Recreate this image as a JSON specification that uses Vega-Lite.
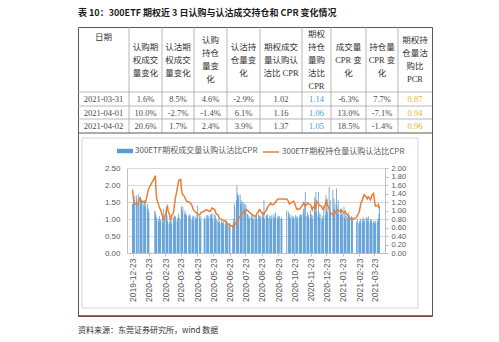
{
 "$schema": "https://vega.github.io/schema/vega-lite/v6.json",
 "width": 354,
 "height": 289,
 "autosize": {"type": "none"},
 "padding": {"left": 78, "top": 27, "right": 67, "bottom": 26},
 "background": "#ffffff",
 "title": {"text": "表 10：300ETF 期权近 3 日认购与认沽成交持仓和 CPR 变化情况", "anchor": "start", "frame": "group", "font": "Noto Sans CJK SC", "fontSize": 9, "fontWeight": "bold", "color": "#1a1a1a", "offset": 9},
 "config": {"view": {"stroke": "#5a5a5a", "strokeWidth": 1}},
 "datasets": {
  "vlines": [{"c":1},{"c":2},{"c":3},{"c":4},{"c":5},{"c":6},{"c":7},{"c":8},{"c":9}],
  "hlines": [{"r":1},{"r":2},{"r":3}],
  "head": [
   {"c":1.5,"n":3,"t":"认购期\n权成交\n量变化"},
   {"c":2.5,"n":3,"t":"认沽期\n权成交\n量变化"},
   {"c":3.5,"n":4,"t":"认购\n持仓\n量变\n化"},
   {"c":4.5,"n":3,"t":"认沽持\n仓量变\n化"},
   {"c":5.5,"n":3,"t":"期权成交\n量认购认\n沽比 CPR"},
   {"c":6.5,"n":5,"t":"期权\n持仓\n量购\n沽比\nCPR"},
   {"c":7.5,"n":3,"t":"成交量\nCPR 变\n化"},
   {"c":8.5,"n":3,"t":"持仓量\nCPR 变\n化"},
   {"c":9.5,"n":4,"t":"期权持\n仓量沽\n购比\nPCR"}
  ],
  "datehead": [{"c":0.5,"t":"日期"}],
  "note": [{"c":0,"r":6,"t":"资料来源：东莞证券研究所，wind 数据"}],
  "cells": [
   {"c":0.5,"r":1.5,"t":"2021-03-31","k":"n"},{"c":1.5,"r":1.5,"t":"1.6%","k":"n"},{"c":2.5,"r":1.5,"t":"8.5%","k":"n"},{"c":3.5,"r":1.5,"t":"4.6%","k":"n"},{"c":4.5,"r":1.5,"t":"-2.9%","k":"n"},{"c":5.5,"r":1.5,"t":"1.02","k":"n"},{"c":6.5,"r":1.5,"t":"1.14","k":"b"},{"c":7.5,"r":1.5,"t":"-6.3%","k":"n"},{"c":8.5,"r":1.5,"t":"7.7%","k":"n"},{"c":9.5,"r":1.5,"t":"0.87","k":"y"},
   {"c":0.5,"r":2.5,"t":"2021-04-01","k":"n"},{"c":1.5,"r":2.5,"t":"10.0%","k":"n"},{"c":2.5,"r":2.5,"t":"-2.7%","k":"n"},{"c":3.5,"r":2.5,"t":"-1.4%","k":"n"},{"c":4.5,"r":2.5,"t":"6.1%","k":"n"},{"c":5.5,"r":2.5,"t":"1.16","k":"n"},{"c":6.5,"r":2.5,"t":"1.06","k":"b"},{"c":7.5,"r":2.5,"t":"13.0%","k":"n"},{"c":8.5,"r":2.5,"t":"-7.1%","k":"n"},{"c":9.5,"r":2.5,"t":"0.94","k":"y"},
   {"c":0.5,"r":3.5,"t":"2021-04-02","k":"n"},{"c":1.5,"r":3.5,"t":"20.6%","k":"n"},{"c":2.5,"r":3.5,"t":"1.7%","k":"n"},{"c":3.5,"r":3.5,"t":"2.4%","k":"n"},{"c":4.5,"r":3.5,"t":"3.9%","k":"n"},{"c":5.5,"r":3.5,"t":"1.37","k":"n"},{"c":6.5,"r":3.5,"t":"1.05","k":"b"},{"c":7.5,"r":3.5,"t":"18.5%","k":"n"},{"c":8.5,"r":3.5,"t":"-1.4%","k":"n"},{"c":9.5,"r":3.5,"t":"0.96","k":"y"}
  ],
  "daily": [
   {"d":"2019-12-23","v":1.45,"o":1.49},{"d":"2019-12-24","v":1.40,"o":1.36},{"d":"2019-12-25","v":1.72,"o":1.25},{"d":"2019-12-26","v":1.68,"o":1.20},{"d":"2019-12-27","v":1.55,"o":1.16},{"d":"2019-12-30","v":1.70,"o":1.14},{"d":"2019-12-31","v":1.62,"o":1.14},
   {"d":"2020-01-02","v":1.48,"o":1.15},{"d":"2020-01-03","v":1.72,"o":1.20},{"d":"2020-01-06","v":1.55,"o":1.29},{"d":"2020-01-07","v":1.65,"o":1.25},{"d":"2020-01-08","v":1.40,"o":1.22},{"d":"2020-01-09","v":1.58,"o":1.23},{"d":"2020-01-10","v":1.50,"o":1.22},{"d":"2020-01-13","v":1.42,"o":1.20},{"d":"2020-01-14","v":1.55,"o":1.21},{"d":"2020-01-15","v":1.38,"o":1.19},{"d":"2020-01-16","v":1.47,"o":1.19},{"d":"2020-01-17","v":1.35,"o":1.22},{"d":"2020-01-20","v":1.45,"o":1.38},{"d":"2020-01-21","v":1.22,"o":1.45},{"d":"2020-01-22","v":1.30,"o":1.49},{"d":"2020-01-23","v":1.18,"o":1.53},
   {"d":"2020-02-03","v":1.25,"o":1.78},{"d":"2020-02-04","v":1.20,"o":1.82},{"d":"2020-02-05","v":1.12,"o":1.55},{"d":"2020-02-06","v":1.05,"o":1.35},{"d":"2020-02-07","v":0.95,"o":1.25},{"d":"2020-02-10","v":1.00,"o":1.15},{"d":"2020-02-11","v":0.90,"o":1.10},{"d":"2020-02-12","v":1.08,"o":1.06},{"d":"2020-02-13","v":0.92,"o":1.04},{"d":"2020-02-14","v":0.98,"o":1.02},{"d":"2020-02-17","v":1.05,"o":0.88},{"d":"2020-02-18","v":0.92,"o":0.84},{"d":"2020-02-19","v":1.30,"o":0.80},{"d":"2020-02-20","v":0.88,"o":0.78},{"d":"2020-02-21","v":1.00,"o":0.82},{"d":"2020-02-24","v":1.18,"o":0.95},{"d":"2020-02-25","v":1.37,"o":1.02},{"d":"2020-02-26","v":1.10,"o":1.08},{"d":"2020-02-27","v":0.95,"o":1.10},{"d":"2020-02-28","v":0.85,"o":0.98},
   {"d":"2020-03-02","v":0.92,"o":0.90},{"d":"2020-03-03","v":1.00,"o":0.82},{"d":"2020-03-04","v":0.88,"o":0.78},{"d":"2020-03-05","v":0.95,"o":0.82},{"d":"2020-03-06","v":0.85,"o":0.88},{"d":"2020-03-09","v":1.05,"o":0.94},{"d":"2020-03-10","v":0.98,"o":1.02},{"d":"2020-03-11","v":1.10,"o":1.12},{"d":"2020-03-12","v":0.90,"o":1.22},{"d":"2020-03-13","v":1.08,"o":1.30},{"d":"2020-03-16","v":0.95,"o":1.48},{"d":"2020-03-17","v":1.02,"o":1.57},{"d":"2020-03-18","v":0.92,"o":1.64},{"d":"2020-03-19","v":1.15,"o":1.69},{"d":"2020-03-20","v":1.05,"o":1.72},{"d":"2020-03-23","v":0.98,"o":1.73},{"d":"2020-03-24","v":1.38,"o":1.55},{"d":"2020-03-25","v":1.30,"o":1.45},{"d":"2020-03-26","v":1.20,"o":1.40},{"d":"2020-03-27","v":1.35,"o":1.37},{"d":"2020-03-30","v":1.15,"o":1.33},{"d":"2020-03-31","v":1.25,"o":1.30},
   {"d":"2020-04-01","v":1.18,"o":1.27},{"d":"2020-04-02","v":1.05,"o":1.25},{"d":"2020-04-03","v":1.12,"o":1.22},{"d":"2020-04-07","v":1.08,"o":1.20},{"d":"2020-04-08","v":1.15,"o":1.19},{"d":"2020-04-09","v":1.02,"o":1.18},{"d":"2020-04-10","v":1.10,"o":1.18},{"d":"2020-04-13","v":0.98,"o":1.12},{"d":"2020-04-14","v":1.05,"o":1.08},{"d":"2020-04-15","v":1.10,"o":1.05},{"d":"2020-04-16","v":0.95,"o":1.02},{"d":"2020-04-17","v":1.08,"o":1.00},{"d":"2020-04-20","v":1.02,"o":0.97},{"d":"2020-04-21","v":1.12,"o":0.95},{"d":"2020-04-22","v":0.98,"o":0.94},{"d":"2020-04-23","v":1.05,"o":0.93},{"d":"2020-04-24","v":1.40,"o":0.91},{"d":"2020-04-27","v":1.10,"o":0.90},{"d":"2020-04-28","v":1.02,"o":0.90},{"d":"2020-04-29","v":0.95,"o":0.92},{"d":"2020-04-30","v":1.08,"o":0.95},
   {"d":"2020-05-06","v":1.00,"o":0.98},{"d":"2020-05-07","v":1.05,"o":0.99},{"d":"2020-05-08","v":0.98,"o":1.00},{"d":"2020-05-11","v":1.10,"o":1.02},{"d":"2020-05-12","v":1.04,"o":1.01},{"d":"2020-05-13","v":1.12,"o":1.00},{"d":"2020-05-14","v":1.00,"o":0.99},{"d":"2020-05-15","v":1.08,"o":0.98},{"d":"2020-05-18","v":1.14,"o":0.98},{"d":"2020-05-19","v":1.05,"o":1.01},{"d":"2020-05-20","v":1.12,"o":1.04},{"d":"2020-05-21","v":1.18,"o":1.06},{"d":"2020-05-22","v":1.00,"o":1.05},{"d":"2020-05-25","v":1.15,"o":1.03},{"d":"2020-05-26","v":0.95,"o":1.02},{"d":"2020-05-27","v":1.10,"o":0.99},{"d":"2020-05-28","v":1.05,"o":0.95},{"d":"2020-05-29","v":0.98,"o":0.92},
   {"d":"2020-06-01","v":0.95,"o":0.90},{"d":"2020-06-02","v":0.88,"o":0.87},{"d":"2020-06-03","v":1.00,"o":0.84},{"d":"2020-06-04","v":0.92,"o":0.82},{"d":"2020-06-05","v":0.85,"o":0.81},{"d":"2020-06-08","v":0.95,"o":0.79},{"d":"2020-06-09","v":0.88,"o":0.78},{"d":"2020-06-10","v":0.90,"o":0.78},{"d":"2020-06-11","v":0.82,"o":0.77},{"d":"2020-06-12","v":0.92,"o":0.76},{"d":"2020-06-15","v":0.85,"o":0.76},{"d":"2020-06-16","v":0.95,"o":0.75},{"d":"2020-06-17","v":0.88,"o":0.73},{"d":"2020-06-18","v":0.80,"o":0.71},{"d":"2020-06-19","v":0.90,"o":0.69},{"d":"2020-06-22","v":0.85,"o":0.67},{"d":"2020-06-23","v":0.78,"o":0.66},{"d":"2020-06-24","v":0.88,"o":0.65},{"d":"2020-06-29","v":0.82,"o":0.63},{"d":"2020-06-30","v":0.90,"o":0.60},
   {"d":"2020-07-01","v":1.00,"o":0.59},{"d":"2020-07-02","v":1.45,"o":0.62},{"d":"2020-07-03","v":1.35,"o":0.67},{"d":"2020-07-06","v":1.55,"o":0.72},{"d":"2020-07-07","v":1.98,"o":0.75},{"d":"2020-07-08","v":1.75,"o":0.78},{"d":"2020-07-09","v":1.60,"o":0.80},{"d":"2020-07-10","v":1.70,"o":0.82},{"d":"2020-07-13","v":1.72,"o":0.86},{"d":"2020-07-14","v":1.45,"o":0.88},{"d":"2020-07-15","v":1.55,"o":0.89},{"d":"2020-07-16","v":1.40,"o":0.90},{"d":"2020-07-17","v":1.50,"o":0.93},{"d":"2020-07-20","v":1.48,"o":0.96},{"d":"2020-07-21","v":1.30,"o":0.98},{"d":"2020-07-22","v":1.45,"o":1.00},{"d":"2020-07-23","v":1.25,"o":1.01},{"d":"2020-07-24","v":1.42,"o":1.02},{"d":"2020-07-27","v":1.15,"o":1.00},{"d":"2020-07-28","v":1.12,"o":0.99},{"d":"2020-07-29","v":1.00,"o":0.98},{"d":"2020-07-30","v":1.08,"o":0.97},{"d":"2020-07-31","v":1.02,"o":0.95},
   {"d":"2020-08-03","v":1.05,"o":0.93},{"d":"2020-08-04","v":1.12,"o":0.91},{"d":"2020-08-05","v":0.98,"o":0.90},{"d":"2020-08-06","v":1.08,"o":0.90},{"d":"2020-08-07","v":1.00,"o":0.88},{"d":"2020-08-10","v":1.10,"o":0.87},{"d":"2020-08-11","v":0.95,"o":0.86},{"d":"2020-08-12","v":1.05,"o":0.88},{"d":"2020-08-13","v":1.12,"o":0.91},{"d":"2020-08-14","v":1.00,"o":0.94},{"d":"2020-08-17","v":1.15,"o":0.98},{"d":"2020-08-18","v":1.05,"o":1.01},{"d":"2020-08-19","v":1.10,"o":1.02},{"d":"2020-08-20","v":0.98,"o":1.00},{"d":"2020-08-21","v":1.08,"o":0.97},{"d":"2020-08-24","v":1.10,"o":0.94},{"d":"2020-08-25","v":1.20,"o":0.92},{"d":"2020-08-26","v":1.05,"o":0.90},{"d":"2020-08-27","v":1.55,"o":0.91},{"d":"2020-08-28","v":1.00,"o":0.95},{"d":"2020-08-31","v":1.08,"o":1.00},
   {"d":"2020-09-01","v":1.12,"o":1.02},{"d":"2020-09-02","v":1.05,"o":1.05},{"d":"2020-09-03","v":1.15,"o":1.08},{"d":"2020-09-04","v":1.02,"o":1.10},{"d":"2020-09-07","v":1.10,"o":1.15},{"d":"2020-09-08","v":0.98,"o":1.18},{"d":"2020-09-09","v":1.08,"o":1.17},{"d":"2020-09-10","v":1.00,"o":1.15},{"d":"2020-09-11","v":1.12,"o":1.14},{"d":"2020-09-14","v":1.05,"o":1.14},{"d":"2020-09-15","v":1.15,"o":1.15},{"d":"2020-09-16","v":1.00,"o":1.17},{"d":"2020-09-17","v":1.08,"o":1.18},{"d":"2020-09-18","v":1.20,"o":1.20},{"d":"2020-09-21","v":1.05,"o":1.25},{"d":"2020-09-22","v":0.98,"o":1.26},{"d":"2020-09-23","v":1.10,"o":1.27},{"d":"2020-09-24","v":1.02,"o":1.27},{"d":"2020-09-25","v":1.08,"o":1.27},{"d":"2020-09-28","v":1.00,"o":1.27},{"d":"2020-09-29","v":1.05,"o":1.27},{"d":"2020-09-30","v":0.98,"o":1.27},
   {"d":"2020-10-09","v":1.25,"o":1.27},{"d":"2020-10-12","v":1.22,"o":1.22},{"d":"2020-10-13","v":1.15,"o":1.18},{"d":"2020-10-14","v":1.05,"o":1.15},{"d":"2020-10-15","v":1.15,"o":1.16},{"d":"2020-10-16","v":1.02,"o":1.18},{"d":"2020-10-19","v":1.10,"o":1.19},{"d":"2020-10-20","v":0.98,"o":1.20},{"d":"2020-10-21","v":1.08,"o":1.21},{"d":"2020-10-22","v":1.00,"o":1.22},{"d":"2020-10-23","v":1.05,"o":1.20},{"d":"2020-10-26","v":1.12,"o":1.10},{"d":"2020-10-27","v":1.00,"o":1.06},{"d":"2020-10-28","v":1.08,"o":1.03},{"d":"2020-10-29","v":0.95,"o":1.02},{"d":"2020-10-30","v":1.05,"o":1.03},
   {"d":"2020-11-02","v":1.10,"o":1.04},{"d":"2020-11-03","v":1.02,"o":1.04},{"d":"2020-11-04","v":1.15,"o":1.06},{"d":"2020-11-05","v":1.05,"o":1.08},{"d":"2020-11-06","v":1.12,"o":1.10},{"d":"2020-11-09","v":1.20,"o":1.15},{"d":"2020-11-10","v":1.30,"o":1.18},{"d":"2020-11-11","v":1.10,"o":1.16},{"d":"2020-11-12","v":1.40,"o":1.13},{"d":"2020-11-13","v":1.80,"o":1.11},{"d":"2020-11-16","v":1.08,"o":1.14},{"d":"2020-11-17","v":1.20,"o":1.17},{"d":"2020-11-18","v":1.05,"o":1.18},{"d":"2020-11-19","v":1.12,"o":1.16},{"d":"2020-11-20","v":1.00,"o":1.15},{"d":"2020-11-23","v":1.25,"o":1.14},{"d":"2020-11-24","v":1.15,"o":1.10},{"d":"2020-11-25","v":1.05,"o":1.06},{"d":"2020-11-26","v":1.10,"o":1.02},{"d":"2020-11-27","v":1.00,"o":1.06},{"d":"2020-11-30","v":1.50,"o":1.10},
   {"d":"2020-12-01","v":1.65,"o":1.12},{"d":"2020-12-02","v":1.20,"o":1.05},{"d":"2020-12-03","v":1.80,"o":1.02},{"d":"2020-12-04","v":1.25,"o":1.22},{"d":"2020-12-07","v":1.10,"o":1.18},{"d":"2020-12-08","v":1.80,"o":1.15},{"d":"2020-12-09","v":1.20,"o":1.14},{"d":"2020-12-10","v":1.05,"o":1.12},{"d":"2020-12-11","v":1.15,"o":1.11},{"d":"2020-12-14","v":1.00,"o":1.10},{"d":"2020-12-15","v":1.10,"o":1.06},{"d":"2020-12-16","v":0.95,"o":1.03},{"d":"2020-12-17","v":1.05,"o":1.02},{"d":"2020-12-18","v":1.40,"o":1.05},{"d":"2020-12-21","v":1.12,"o":1.14},{"d":"2020-12-22","v":1.70,"o":1.20},{"d":"2020-12-23","v":1.30,"o":1.25},{"d":"2020-12-24","v":1.60,"o":1.18},{"d":"2020-12-25","v":1.20,"o":1.12},{"d":"2020-12-28","v":1.95,"o":1.06},{"d":"2020-12-29","v":1.35,"o":1.00},{"d":"2020-12-30","v":1.55,"o":0.96},{"d":"2020-12-31","v":1.20,"o":0.94},
   {"d":"2021-01-04","v":1.85,"o":0.90},{"d":"2021-01-05","v":1.30,"o":0.90},{"d":"2021-01-06","v":1.60,"o":0.89},{"d":"2021-01-07","v":1.25,"o":0.90},{"d":"2021-01-08","v":1.45,"o":0.96},{"d":"2021-01-11","v":1.90,"o":1.00},{"d":"2021-01-12","v":1.40,"o":1.02},{"d":"2021-01-13","v":1.20,"o":1.02},{"d":"2021-01-14","v":1.55,"o":1.00},{"d":"2021-01-15","v":1.15,"o":0.98},{"d":"2021-01-18","v":1.30,"o":0.98},{"d":"2021-01-19","v":1.10,"o":1.00},{"d":"2021-01-20","v":1.25,"o":1.02},{"d":"2021-01-21","v":1.05,"o":1.00},{"d":"2021-01-22","v":1.15,"o":0.97},{"d":"2021-01-25","v":1.37,"o":0.94},{"d":"2021-01-26","v":1.05,"o":0.96},{"d":"2021-01-27","v":1.15,"o":0.98},{"d":"2021-01-28","v":1.00,"o":0.95},{"d":"2021-01-29","v":1.10,"o":0.92},
   {"d":"2021-02-01","v":1.05,"o":0.90},{"d":"2021-02-02","v":1.20,"o":0.87},{"d":"2021-02-03","v":0.98,"o":0.84},{"d":"2021-02-04","v":1.12,"o":0.83},{"d":"2021-02-05","v":1.00,"o":0.82},{"d":"2021-02-08","v":1.08,"o":0.79},{"d":"2021-02-09","v":0.95,"o":0.78},{"d":"2021-02-10","v":1.05,"o":0.79},{"d":"2021-02-18","v":0.92,"o":0.84},{"d":"2021-02-19","v":1.00,"o":0.88},{"d":"2021-02-22","v":0.88,"o":0.94},{"d":"2021-02-23","v":0.95,"o":0.98},{"d":"2021-02-24","v":0.85,"o":1.04},{"d":"2021-02-25","v":1.00,"o":1.10},{"d":"2021-02-26","v":0.90,"o":1.18},
   {"d":"2021-03-01","v":0.98,"o":1.25},{"d":"2021-03-02","v":1.05,"o":1.30},{"d":"2021-03-03","v":0.92,"o":1.34},{"d":"2021-03-04","v":1.00,"o":1.37},{"d":"2021-03-05","v":0.95,"o":1.35},{"d":"2021-03-08","v":1.05,"o":1.33},{"d":"2021-03-09","v":0.90,"o":1.29},{"d":"2021-03-10","v":1.02,"o":1.27},{"d":"2021-03-11","v":0.95,"o":1.29},{"d":"2021-03-12","v":1.08,"o":1.32},{"d":"2021-03-15","v":0.92,"o":1.28},{"d":"2021-03-16","v":1.00,"o":1.25},{"d":"2021-03-17","v":0.88,"o":1.28},{"d":"2021-03-18","v":0.98,"o":1.33},{"d":"2021-03-19","v":0.90,"o":1.36},{"d":"2021-03-22","v":0.95,"o":1.40},{"d":"2021-03-23","v":0.85,"o":1.30},{"d":"2021-03-24","v":0.92,"o":1.18},{"d":"2021-03-25","v":0.88,"o":1.12},{"d":"2021-03-26","v":0.95,"o":1.10},{"d":"2021-03-29","v":0.90,"o":1.11},{"d":"2021-03-30","v":0.98,"o":1.12},{"d":"2021-03-31","v":1.02,"o":1.14},
   {"d":"2021-04-01","v":1.16,"o":1.06},{"d":"2021-04-02","v":1.37,"o":1.05}
  ]
 },
 "layer": [
  {
   "layer": [
    {
     "data": {"values": [{"f": 1}]},
     "mark": {"type": "rect", "fill": null, "stroke": "#d4d4d4", "strokeWidth": 1, "xOffset": 4, "x2Offset": -14, "yOffset": 5, "y2Offset": -8},
     "encoding": {
      "x": {"datum": 0, "type": "quantitative", "scale": {"domain": [0,1,2,3,4,5,6,7,8,9,10], "range": [0,51,84,116,149,182,224,253,288,320,354], "nice": false, "zero": false}, "axis": null},
      "x2": {"datum": 10},
      "y": {"datum": 4, "type": "quantitative", "scale": {"domain": [0,1,2,3,4,5,6], "range": [0,65,79,92,106,289,304], "nice": false, "zero": false}, "axis": null},
      "y2": {"datum": 5}
     }
    },
    {
     "data": {"name": "vlines"},
     "mark": {"type": "rule", "color": "#a6a6a6", "strokeWidth": 0.8},
     "encoding": {
      "x": {"field": "c", "type": "quantitative", "scale": {"domain": [0,1,2,3,4,5,6,7,8,9,10], "range": [0,51,84,116,149,182,224,253,288,320,354], "nice": false, "zero": false}, "axis": null},
      "y": {"datum": 0, "type": "quantitative", "scale": {"domain": [0,1,2,3,4,5,6], "range": [0,65,79,92,106,289,304], "nice": false, "zero": false}, "axis": null},
      "y2": {"datum": 4}
     }
    },
    {
     "data": {"name": "hlines"},
     "mark": {"type": "rule", "color": "#a6a6a6", "strokeWidth": 0.8},
     "encoding": {
      "y": {"field": "r", "type": "quantitative", "scale": {"domain": [0,1,2,3,4,5,6], "range": [0,65,79,92,106,289,304], "nice": false, "zero": false}, "axis": null},
      "x": {"datum": 0, "type": "quantitative", "scale": {"domain": [0,1,2,3,4,5,6,7,8,9,10], "range": [0,51,84,116,149,182,224,253,288,320,354], "nice": false, "zero": false}, "axis": null},
      "x2": {"datum": 10}
     }
    },
    {
     "data": {"values": [{"r": 4, "col": "#5a5a5a", "w": 1}, {"r": 5, "col": "#8b3a3a", "w": 1.6}]},
     "mark": {"type": "rule"},
     "encoding": {
      "y": {"field": "r", "type": "quantitative", "scale": {"domain": [0,1,2,3,4,5,6], "range": [0,65,79,92,106,289,304], "nice": false, "zero": false}, "axis": null},
      "x": {"datum": 0, "type": "quantitative", "scale": {"domain": [0,1,2,3,4,5,6,7,8,9,10], "range": [0,51,84,116,149,182,224,253,288,320,354], "nice": false, "zero": false}, "axis": null},
      "x2": {"datum": 10},
      "color": {"field": "col", "type": "nominal", "scale": null, "legend": null},
      "strokeWidth": {"field": "w", "type": "quantitative", "scale": null, "legend": null}
     }
    },
    {
     "data": {"name": "head"},
     "transform": [{"filter": "datum.n == 3"}],
     "mark": {"type": "text", "lineBreak": "\n", "lineHeight": 13, "font": "Liberation Serif, Noto Sans CJK SC", "fontSize": 8.5, "color": "#333333", "align": "center", "baseline": "middle", "yOffset": -13},
     "encoding": {
      "x": {"field": "c", "type": "quantitative", "scale": {"domain": [0,1,2,3,4,5,6,7,8,9,10], "range": [0,51,84,116,149,182,224,253,288,320,354], "nice": false, "zero": false}, "axis": null},
      "y": {"datum": 0.5, "type": "quantitative", "scale": {"domain": [0,1,2,3,4,5,6], "range": [0,65,79,92,106,289,304], "nice": false, "zero": false}, "axis": null},
      "text": {"field": "t"}
     }
    },
    {
     "data": {"name": "head"},
     "transform": [{"filter": "datum.n == 4"}],
     "mark": {"type": "text", "lineBreak": "\n", "lineHeight": 13, "font": "Liberation Serif, Noto Sans CJK SC", "fontSize": 8.5, "color": "#333333", "align": "center", "baseline": "middle", "yOffset": -19.5},
     "encoding": {
      "x": {"field": "c", "type": "quantitative", "scale": {"domain": [0,1,2,3,4,5,6,7,8,9,10], "range": [0,51,84,116,149,182,224,253,288,320,354], "nice": false, "zero": false}, "axis": null},
      "y": {"datum": 0.5, "type": "quantitative", "scale": {"domain": [0,1,2,3,4,5,6], "range": [0,65,79,92,106,289,304], "nice": false, "zero": false}, "axis": null},
      "text": {"field": "t"}
     }
    },
    {
     "data": {"name": "head"},
     "transform": [{"filter": "datum.n == 5"}],
     "mark": {"type": "text", "lineBreak": "\n", "lineHeight": 13, "font": "Liberation Serif, Noto Sans CJK SC", "fontSize": 8.5, "color": "#333333", "align": "center", "baseline": "middle", "yOffset": -26},
     "encoding": {
      "x": {"field": "c", "type": "quantitative", "scale": {"domain": [0,1,2,3,4,5,6,7,8,9,10], "range": [0,51,84,116,149,182,224,253,288,320,354], "nice": false, "zero": false}, "axis": null},
      "y": {"datum": 0.5, "type": "quantitative", "scale": {"domain": [0,1,2,3,4,5,6], "range": [0,65,79,92,106,289,304], "nice": false, "zero": false}, "axis": null},
      "text": {"field": "t"}
     }
    },
    {
     "data": {"name": "datehead"},
     "mark": {"type": "text", "font": "Noto Sans CJK SC", "fontSize": 8.5, "color": "#333333", "align": "center", "baseline": "top", "yOffset": 6},
     "encoding": {
      "x": {"field": "c", "type": "quantitative", "scale": {"domain": [0,1,2,3,4,5,6,7,8,9,10], "range": [0,51,84,116,149,182,224,253,288,320,354], "nice": false, "zero": false}, "axis": null},
      "y": {"datum": 0, "type": "quantitative", "scale": {"domain": [0,1,2,3,4,5,6], "range": [0,65,79,92,106,289,304], "nice": false, "zero": false}, "axis": null},
      "text": {"field": "t"}
     }
    },
    {
     "data": {"name": "cells"},
     "mark": {"type": "text", "font": "Liberation Serif", "fontSize": 8.5, "align": "center", "baseline": "middle"},
     "encoding": {
      "x": {"field": "c", "type": "quantitative", "scale": {"domain": [0,1,2,3,4,5,6,7,8,9,10], "range": [0,51,84,116,149,182,224,253,288,320,354], "nice": false, "zero": false}, "axis": null},
      "y": {"field": "r", "type": "quantitative", "scale": {"domain": [0,1,2,3,4,5,6], "range": [0,65,79,92,106,289,304], "nice": false, "zero": false}, "axis": null},
      "text": {"field": "t"},
      "color": {"field": "k", "type": "nominal", "scale": {"domain": ["n","b","y"], "range": ["#4a4a4a","#3aa0d8","#e8b41e"]}, "legend": null}
     }
    },
    {
     "data": {"name": "note"},
     "mark": {"type": "text", "font": "Noto Sans CJK SC", "fontSize": 8, "color": "#333333", "align": "left", "baseline": "middle"},
     "encoding": {
      "x": {"field": "c", "type": "quantitative", "scale": {"domain": [0,1,2,3,4,5,6,7,8,9,10], "range": [0,51,84,116,149,182,224,253,288,320,354], "nice": false, "zero": false}, "axis": null},
      "y": {"field": "r", "type": "quantitative", "scale": {"domain": [0,1,2,3,4,5,6], "range": [0,65,79,92,106,289,304], "nice": false, "zero": false}, "axis": null},
      "text": {"field": "t"}
     }
    }
   ]
  },
  {
   "data": {"name": "daily"},
   "layer": [
    {
     "mark": {"type": "bar", "width": 0.8},
     "encoding": {
      "x": {"field": "d", "type": "temporal",
            "scale": {"type": "utc", "domain": [{"year": 2019, "month": 12, "date": 22, "utc": true}, {"year": 2021, "month": 4, "date": 3, "utc": true}], "range": [49, 307]},
            "axis": {"orient": "bottom", "offset": -63, "title": null, "grid": false, "format": "%Y-%m-%d", "labelAngle": 270, "labelAlign": "right", "labelBaseline": "middle", "labelFont": "Liberation Sans", "labelFontSize": 8.5, "labelColor": "#595959", "labelPadding": 2, "labelOverlap": false, "labelSeparation": 0, "labelBound": false, "tickSize": 3, "tickColor": "#bfbfbf", "domainColor": "#bfbfbf",
                     "values": [{"year":2019,"month":12,"date":23,"utc":true},{"year":2020,"month":1,"date":23,"utc":true},{"year":2020,"month":2,"date":23,"utc":true},{"year":2020,"month":3,"date":23,"utc":true},{"year":2020,"month":4,"date":23,"utc":true},{"year":2020,"month":5,"date":23,"utc":true},{"year":2020,"month":6,"date":23,"utc":true},{"year":2020,"month":7,"date":23,"utc":true},{"year":2020,"month":8,"date":23,"utc":true},{"year":2020,"month":9,"date":23,"utc":true},{"year":2020,"month":10,"date":23,"utc":true},{"year":2020,"month":11,"date":23,"utc":true},{"year":2020,"month":12,"date":23,"utc":true},{"year":2021,"month":1,"date":23,"utc":true},{"year":2021,"month":2,"date":23,"utc":true},{"year":2021,"month":3,"date":23,"utc":true}]}},
      "y": {"field": "v", "type": "quantitative",
            "scale": {"domain": [0, 2.5], "range": [226, 141], "nice": false},
            "axis": {"orient": "left", "offset": -49, "title": null, "values": [0, 0.5, 1, 1.5, 2, 2.5], "format": ".2f", "grid": true, "gridColor": "#d9d9d9", "ticks": false, "domainColor": "#bfbfbf", "labelFont": "Liberation Sans", "labelFontSize": 8, "labelColor": "#595959", "labelPadding": 7}},
      "color": {"datum": "300ETF期权成交量认购认沽比CPR", "scale": {"range": ["#5b9bd5"]},
                "legend": {"orient": "none", "legendX": 39, "legendY": 116, "title": null, "symbolType": "M-1,-0.28L1,-0.28L1,0.28L-1,0.28Z", "symbolSize": 256, "symbolStrokeWidth": 0, "labelFont": "Noto Sans CJK SC", "labelFontSize": 8, "labelColor": "#595959", "labelOffset": 2}}
     }
    },
    {
     "mark": {"type": "line", "strokeWidth": 1.5},
     "encoding": {
      "x": {"field": "d", "type": "temporal",
            "scale": {"type": "utc", "domain": [{"year": 2019, "month": 12, "date": 22, "utc": true}, {"year": 2021, "month": 4, "date": 3, "utc": true}], "range": [49, 307]},
            "axis": {"orient": "bottom", "offset": -63, "title": null, "grid": false, "format": "%Y-%m-%d", "labelAngle": 270, "labelAlign": "right", "labelBaseline": "middle", "labelFont": "Liberation Sans", "labelFontSize": 8.5, "labelColor": "#595959", "labelPadding": 2, "labelOverlap": false, "labelSeparation": 0, "labelBound": false, "tickSize": 3, "tickColor": "#bfbfbf", "domainColor": "#bfbfbf",
                     "values": [{"year":2019,"month":12,"date":23,"utc":true},{"year":2020,"month":1,"date":23,"utc":true},{"year":2020,"month":2,"date":23,"utc":true},{"year":2020,"month":3,"date":23,"utc":true},{"year":2020,"month":4,"date":23,"utc":true},{"year":2020,"month":5,"date":23,"utc":true},{"year":2020,"month":6,"date":23,"utc":true},{"year":2020,"month":7,"date":23,"utc":true},{"year":2020,"month":8,"date":23,"utc":true},{"year":2020,"month":9,"date":23,"utc":true},{"year":2020,"month":10,"date":23,"utc":true},{"year":2020,"month":11,"date":23,"utc":true},{"year":2020,"month":12,"date":23,"utc":true},{"year":2021,"month":1,"date":23,"utc":true},{"year":2021,"month":2,"date":23,"utc":true},{"year":2021,"month":3,"date":23,"utc":true}]}},
      "y": {"field": "o", "type": "quantitative",
            "scale": {"domain": [0, 2], "range": [226, 141], "nice": false},
            "axis": {"orient": "right", "offset": -47, "title": null, "values": [0, 0.2, 0.4, 0.6, 0.8, 1, 1.2, 1.4, 1.6, 1.8, 2], "format": ".2f", "grid": false, "tickSize": 3, "tickColor": "#bfbfbf", "domainColor": "#bfbfbf", "labelFont": "Liberation Sans", "labelFontSize": 7.5, "labelColor": "#595959", "labelPadding": 3}},
      "color": {"datum": "300ETF期权持仓量认购认沽比CPR", "scale": {"range": ["#ed7d31"]},
                "legend": {"orient": "none", "legendX": 184, "legendY": 116, "title": null, "symbolType": "stroke", "symbolSize": 256, "symbolStrokeWidth": 1.5, "labelFont": "Noto Sans CJK SC", "labelFontSize": 8, "labelColor": "#595959", "labelOffset": 2}}
     }
    }
   ],
   "resolve": {"scale": {"y": "independent", "color": "independent"}, "axis": {"y": "independent"}, "legend": {"color": "independent"}}
  }
 ],
 "resolve": {"scale": {"x": "independent", "y": "independent", "color": "independent", "strokeWidth": "independent"}, "axis": {"x": "independent", "y": "independent"}, "legend": {"color": "independent"}}
}
